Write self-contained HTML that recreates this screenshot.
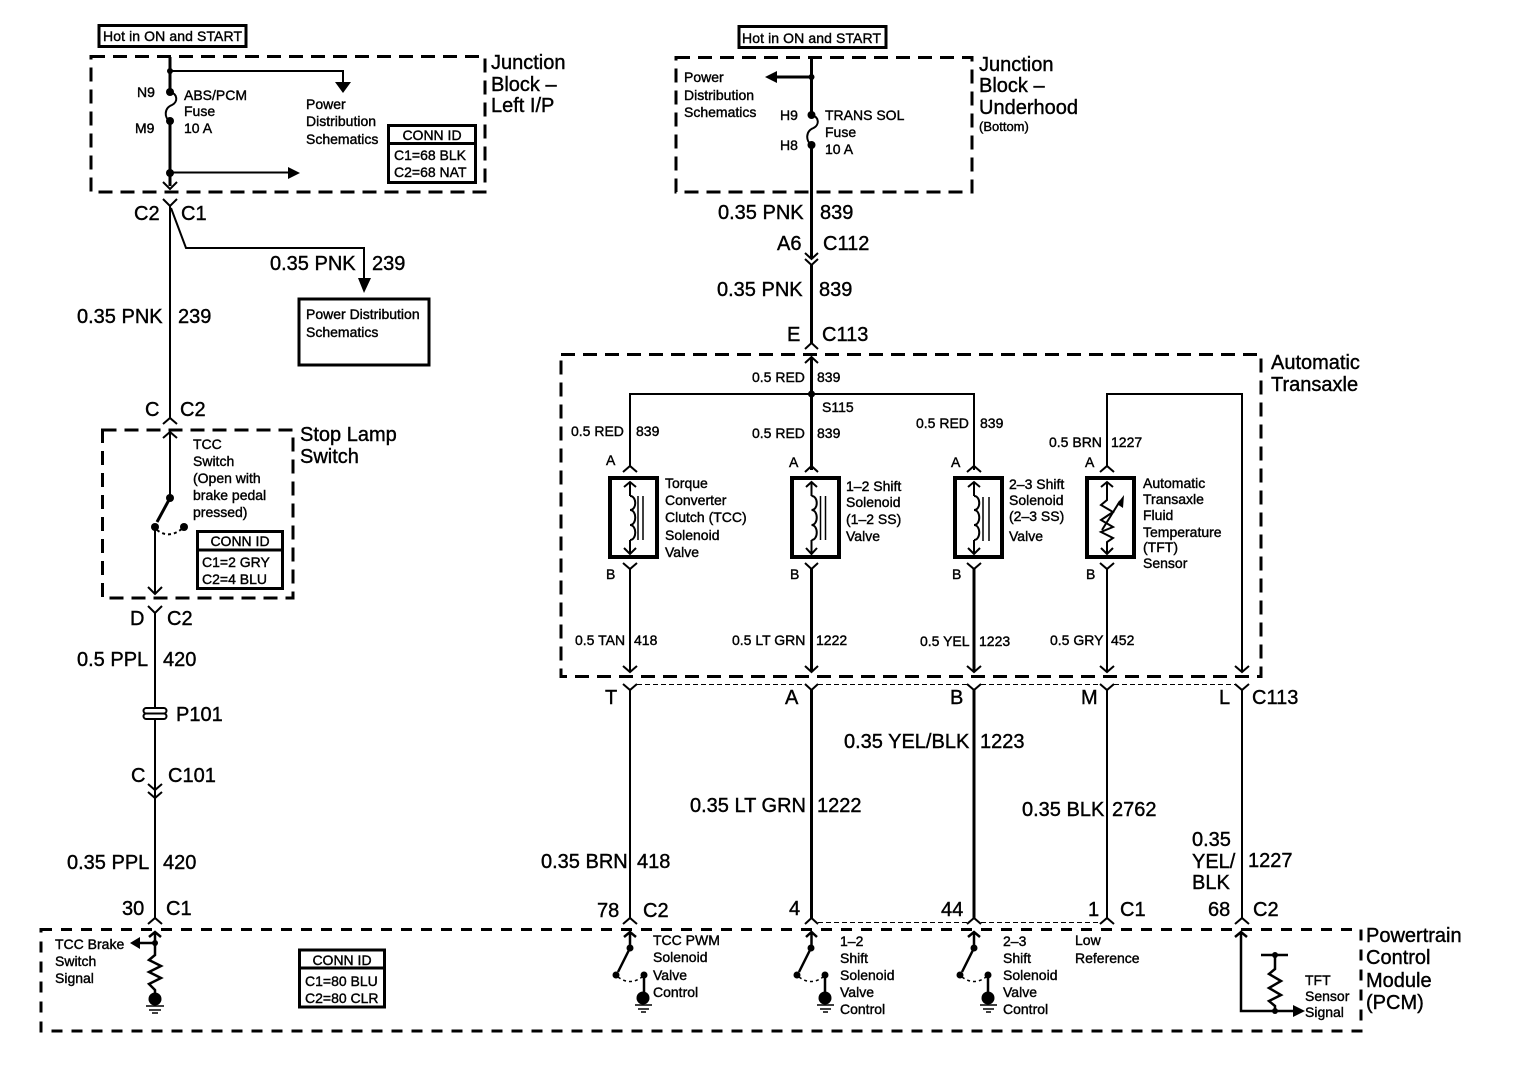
<!DOCTYPE html>
<html><head><meta charset="utf-8"><style>
html,body{margin:0;padding:0;background:#fff}
svg{display:block}
text{font-family:"Liberation Sans",sans-serif;fill:#000;stroke:#000;stroke-width:.4}
.l{font-size:20px}
.m{font-size:14px}
.s{font-size:13px}
.c{text-anchor:middle}
.w{fill:none;stroke:#000;stroke-linejoin:miter}
</style></head><body>
<svg width="1516" height="1072" viewBox="0 0 1516 1072" xmlns="http://www.w3.org/2000/svg">
<rect width="1516" height="1072" fill="#fff"/>
<!-- dashed enclosures -->
<g class="w" fill="none" stroke="#000" stroke-width="3">
<rect x="91" y="56.500" width="394" height="135.500" stroke-dasharray="14 8"/>
<rect x="676" y="57.500" width="296" height="134.500" stroke-dasharray="14 8"/>
<rect x="102.500" y="430" width="190.500" height="168" stroke-dasharray="14 8"/>
<rect x="561" y="354.500" width="700" height="322" stroke-dasharray="14 8"/>
<rect x="41" y="929.500" width="1320" height="101.500" stroke-dasharray="11 9"/>
</g>
<!-- solid boxes -->
<g class="w" stroke-width="3">
<rect x="99" y="25.500" width="147" height="21"/>
<rect x="739" y="26.500" width="147" height="21"/>
<rect x="299" y="299" width="130" height="66"/>
<rect x="388.500" y="125.500" width="87" height="57"/><path d="M388 143.500H476"/>
<rect x="197.500" y="531.500" width="85" height="57"/><path d="M197 550H283"/>
<rect x="299.500" y="950" width="85" height="57"/><path d="M299 968H385"/>
</g>
<g class="w" stroke-width="4">
<rect x="610" y="478" width="47" height="79"/>
<rect x="792" y="478" width="47" height="79"/>
<rect x="955" y="478" width="47" height="79"/>
<rect x="1087" y="478" width="47" height="79"/>
</g>
<!-- left wires -->
<g class="w" stroke-width="3">
<path d="M170 57V92M170 121V186"/>
<path d="M170 92c8 2 8 10 2 13c-8 3 -8 13 -2 16" stroke-width="2"/>
<path d="M170 71H343V84M170 172.500H290" stroke-width="2"/>
</g>
<g class="w" stroke-width="2">
<path d="M163 182L170 189L177 182M163 199L170 206L177 199M170 206V418M171 208L186 248H364V282"/>
<path d="M163 424L170 418L177 424M163 438L170 432L177 438M170 432V498"/>
<path d="M155 527V594M148 587L155 594L162 587M148 606L155 613L162 606M155 613V708M155 719V918M148 784L155 790L162 784M148 792L155 798L162 792"/>
<path d="M148 924L155 918L162 924"/>
<path d="M157 530Q170 540 184 527" stroke-dasharray="3 3"/>
</g>
<path d="M335 82H351L343 93Z M288 167V179L300 173Z M358 278H371L364 293Z"/>
<g><circle cx="170" cy="71" r="3"/><circle cx="170" cy="92" r="4"/><circle cx="170" cy="121" r="4"/><circle cx="170" cy="173" r="4"/><circle cx="170" cy="498" r="4"/><circle cx="155" cy="527" r="4"/><circle cx="184" cy="527" r="4"/></g>
<path d="M170 498L157 522" class="w" stroke-width="3"/>
<!-- P101 -->
<rect x="143.500" y="708" width="23" height="5.500" rx="2.750" class="w" stroke-width="2" fill="#fff"/>
<rect x="143.500" y="713.500" width="23" height="5.500" rx="2.750" class="w" stroke-width="2" fill="#fff"/>
<!-- upper right -->
<g class="w" stroke-width="3">
<path d="M811.500 57V115M811.500 77H775M811.500 145V259M811.500 265V343M811.500 357V470"/>
</g>
<path d="M811.500 115c8 2 8 10 2 13c-8 3 -8 13 -2 17" class="w" stroke-width="2"/>
<path d="M777 71V83L765 77Z"/>
<circle cx="811.500" cy="77" r="3"/><circle cx="811.500" cy="115" r="4"/><circle cx="811.500" cy="145" r="4"/>
<g class="w" stroke-width="2">
<path d="M805 253L811.500 259L818 253M805 259L811.500 265L818 259"/>
<path d="M805 349L811.500 343L818 349M805 363L811.500 357L818 363"/>
<!-- bus -->
<path d="M630 466V394H974V470M974 394V466M1107 466V394H1242V672"/>
<path d="M623 472L630 466L637 472M805 472L811.500 466L818 472M967 472L974 466L981 472M1100 472L1107 466L1114 472"/>
<!-- internal arrows -->
<path d="M624 487L630 482L636 487M806 487L811.500 482L817 487M968 487L974 482L980 487M1101 487L1107 482L1113 487"/>
<path d="M624 548L630 554L636 548M806 548L811.500 554L817 548M968 548L974 554L980 548M1101 548L1107 554L1113 548"/>
<path d="M630 483V496M811.500 483V496M974 483V496M630 540V553M811.500 540V553M974 540V553M1107 483V500L1101 505L1113 512L1101 520L1113 527L1101 532L1113 538L1107 542V553"/>
<!-- coils -->
<path d="M630 496c7 0 7 14 0 14c7 0 7 15 0 15c7 0 7 15 0 15"/>
<path d="M811.500 496c7 0 7 14 0 14c7 0 7 15 0 15c7 0 7 15 0 15"/>
<path d="M974 496c7 0 7 14 0 14c7 0 7 15 0 15c7 0 7 15 0 15"/>
<path d="M1102 530L1120 501"/>
<!-- below boxes -->
<path d="M623 563L630 569L637 563M805 563L811.500 569L818 563M967 563L974 569L981 563M1100 563L1107 569L1114 563"/>
<path d="M630 569V672M1107 569V672"/>
<path d="M623 666L630 672L637 666M805 666L811.500 672L818 666M967 666L974 672L981 666M1100 666L1107 672L1114 666M1235 666L1242 672L1249 666"/>
<path d="M623 684L630 690L637 684M805 684L811.500 690L818 684M967 684L974 690L981 684M1100 684L1107 690L1114 684M1235 684L1242 690L1249 684"/>
<path d="M630 690V918M1107 690V918M1242 690V918"/>
<path d="M623 924L630 918L637 924M805 924L811.500 918L818 924M967 924L974 918L981 924M1100 924L1107 918L1114 924M1235 924L1242 918L1249 924"/>
</g>
<g class="w" stroke-width="1.500">
<path d="M638 496V540M643 496V540M820.500 496V540M825.500 496V540M983 497V541M989 497V541"/>
</g>
<path d="M1117 504L1124 495L1123 508Z"/>
<circle cx="811.500" cy="394" r="3.500"/>
<g class="w" stroke-width="3"><path d="M811.500 569V672M974 569V672M811.500 690V918M974 690V918"/></g>
<path d="M637 684.500H805M818 684.500H967M981 684.500H1100M1114 684.500H1235M818 922.500H967M981 922.500H1100" class="w" stroke-width="1" stroke-dasharray="5 3"/>
<!-- PCM internals -->
<g class="w" stroke-width="2.500">
<path d="M149 937L155 932L161 937M155 932V955L149 960L161 966L149 972L161 978L149 984L155 990V998M155 943H140"/>
<path d="M1235 937L1241 932L1247 937M1241 932V1011H1295M1261 955H1288M1275 955V969L1269 974L1281 981L1269 988L1281 995L1269 1001L1275 1006V1011"/>
<path d="M624 937L630 932L636 937M630 932V948M806 937L811.500 932L817 937M811.500 932V948M968 937L974 932L980 937M974 932V948"/>
<path d="M630 948L618 972M811 948L799 972M974 948L962 972M644 975V995M825 975V995M988 975V995"/>
</g>
<path d="M140 937V949L130 943Z M1293 1005V1017L1305 1011Z"/>
<g>
<circle cx="155" cy="943" r="3"/><circle cx="155" cy="999" r="6.500"/>
<circle cx="1275" cy="955" r="3"/><circle cx="1275" cy="1011" r="3"/>
<circle cx="630" cy="948" r="3.500"/><circle cx="616" cy="975" r="3.500"/><circle cx="644" cy="975" r="3.500"/><circle cx="643" cy="998" r="6.500"/>
<circle cx="811" cy="948" r="3.500"/><circle cx="797" cy="975" r="3.500"/><circle cx="825" cy="975" r="3.500"/><circle cx="825" cy="998" r="6.500"/>
<circle cx="974" cy="948" r="3.500"/><circle cx="960" cy="975" r="3.500"/><circle cx="988" cy="975" r="3.500"/><circle cx="988" cy="998" r="6.500"/>
</g>
<g class="w" stroke-width="1.500">
<path d="M146 1006H164M149 1010H161M152 1013H158"/>
<path d="M635 1005H652M638 1009H649M641 1012H646"/>
<path d="M817 1005H834M820 1009H831M823 1012H828"/>
<path d="M980 1005H997M983 1009H994M986 1012H991"/>
<path d="M618 977Q630 986 642 977M799 977Q811 986 823 977M962 977Q974 986 986 977" stroke-dasharray="3 3"/>
</g>
<!-- large text -->
<g class="l">
<text x="491" y="69">Junction</text><text x="491" y="91">Block –</text><text x="491" y="112">Left I/P</text>
<text x="134" y="220">C2</text><text x="181" y="220">C1</text>
<text x="270" y="270">0.35 PNK</text><text x="372" y="270">239</text>
<text x="77" y="323">0.35 PNK</text><text x="178" y="323">239</text>
<text x="145" y="416">C</text><text x="180" y="416">C2</text>
<text x="300" y="441">Stop Lamp</text><text x="300" y="463">Switch</text>
<text x="130" y="625">D</text><text x="167" y="625">C2</text>
<text x="77" y="666">0.5 PPL</text><text x="163" y="666">420</text>
<text x="176" y="721">P101</text>
<text x="131" y="782">C</text><text x="168" y="782">C101</text>
<text x="67" y="869">0.35 PPL</text><text x="163" y="869">420</text>
<text x="122" y="915">30</text><text x="166" y="915">C1</text>
<text x="979" y="71">Junction</text><text x="979" y="92">Block –</text><text x="979" y="114">Underhood</text>
<text x="718" y="219">0.35 PNK</text><text x="820" y="219">839</text>
<text x="777" y="250">A6</text><text x="823" y="250">C112</text>
<text x="717" y="296">0.35 PNK</text><text x="819" y="296">839</text>
<text x="787" y="341">E</text><text x="822" y="341">C113</text>
<text x="1271" y="369">Automatic</text><text x="1271" y="391">Transaxle</text>
<text x="605" y="704">T</text><text x="785" y="704">A</text><text x="950" y="704">B</text><text x="1081" y="704">M</text><text x="1219" y="704">L</text><text x="1252" y="704">C113</text>
<text x="844" y="748">0.35 YEL/BLK</text><text x="980" y="748">1223</text>
<text x="690" y="812">0.35 LT GRN</text><text x="817" y="812">1222</text>
<text x="1022" y="816">0.35 BLK</text><text x="1112" y="816">2762</text>
<text x="1192" y="846">0.35</text><text x="1192" y="868">YEL/</text><text x="1192" y="889">BLK</text><text x="1248" y="867">1227</text>
<text x="541" y="868">0.35 BRN</text><text x="637" y="868">418</text>
<text x="597" y="917">78</text><text x="643" y="917">C2</text>
<text x="789" y="915">4</text><text x="941" y="916">44</text><text x="1088" y="916">1</text><text x="1120" y="916">C1</text>
<text x="1208" y="916">68</text><text x="1253" y="916">C2</text>
<text x="1366" y="942">Powertrain</text><text x="1366" y="964">Control</text><text x="1366" y="987">Module</text><text x="1366" y="1009">(PCM)</text>
</g>
<!-- medium text -->
<g class="m">
<text x="103" y="41" textLength="139">Hot in ON and START</text>
<text x="137" y="97">N9</text><text x="135" y="133">M9</text>
<text x="184" y="100">ABS/PCM</text><text x="184" y="116">Fuse</text><text x="184" y="133">10 A</text>
<text x="306" y="109">Power</text><text x="306" y="126">Distribution</text><text x="306" y="144">Schematics</text>
<text x="432" y="140" class="c">CONN ID</text><text x="394" y="160">C1=68 BLK</text><text x="394" y="177">C2=68 NAT</text>
<text x="306" y="319">Power Distribution</text><text x="306" y="337">Schematics</text>
<text x="193" y="449">TCC</text><text x="193" y="466">Switch</text><text x="193" y="483">(Open with</text><text x="193" y="500">brake pedal</text><text x="193" y="517">pressed)</text>
<text x="240" y="546" class="c">CONN ID</text><text x="202" y="567">C1=2 GRY</text><text x="202" y="584">C2=4 BLU</text>
<text x="55" y="949">TCC Brake</text><text x="55" y="966">Switch</text><text x="55" y="983">Signal</text>
<text x="342" y="965" class="c">CONN ID</text><text x="305" y="986">C1=80 BLU</text><text x="305" y="1003">C2=80 CLR</text>
<text x="742" y="43" textLength="139">Hot in ON and START</text>
<text x="684" y="82">Power</text><text x="684" y="100">Distribution</text><text x="684" y="117">Schematics</text>
<text x="780" y="120">H9</text><text x="780" y="150">H8</text>
<text x="825" y="120">TRANS SOL</text><text x="825" y="137">Fuse</text><text x="825" y="154">10 A</text>
<text x="752" y="382">0.5 RED</text><text x="817" y="382">839</text>
<text x="822" y="412">S115</text>
<text x="571" y="436">0.5 RED</text><text x="636" y="436">839</text>
<text x="752" y="438">0.5 RED</text><text x="817" y="438">839</text>
<text x="916" y="428">0.5 RED</text><text x="980" y="428">839</text>
<text x="1049" y="447">0.5 BRN</text><text x="1111" y="447">1227</text>
<text x="606" y="465">A</text><text x="789" y="467">A</text><text x="951" y="467">A</text><text x="1085" y="467">A</text>
<text x="606" y="579">B</text><text x="790" y="579">B</text><text x="952" y="579">B</text><text x="1086" y="579">B</text>
<text x="665" y="488">Torque</text><text x="665" y="505">Converter</text><text x="665" y="522">Clutch (TCC)</text><text x="665" y="540">Solenoid</text><text x="665" y="557">Valve</text>
<text x="846" y="491">1–2 Shift</text><text x="846" y="507">Solenoid</text><text x="846" y="524">(1–2 SS)</text><text x="846" y="541">Valve</text>
<text x="1009" y="489">2–3 Shift</text><text x="1009" y="505">Solenoid</text><text x="1009" y="521">(2–3 SS)</text><text x="1009" y="541">Valve</text>
<text x="1143" y="488">Automatic</text><text x="1143" y="504">Transaxle</text><text x="1143" y="520">Fluid</text><text x="1143" y="537">Temperature</text><text x="1143" y="552">(TFT)</text><text x="1143" y="568">Sensor</text>
<text x="575" y="645">0.5 TAN</text><text x="634" y="645">418</text>
<text x="732" y="645">0.5 LT GRN</text><text x="816" y="645">1222</text>
<text x="920" y="646">0.5 YEL</text><text x="979" y="646">1223</text>
<text x="1050" y="645">0.5 GRY</text><text x="1111" y="645">452</text>
<text x="653" y="945">TCC PWM</text><text x="653" y="962">Solenoid</text><text x="653" y="980">Valve</text><text x="653" y="997">Control</text>
<text x="840" y="946">1–2</text><text x="840" y="963">Shift</text><text x="840" y="980">Solenoid</text><text x="840" y="997">Valve</text><text x="840" y="1014">Control</text>
<text x="1003" y="946">2–3</text><text x="1003" y="963">Shift</text><text x="1003" y="980">Solenoid</text><text x="1003" y="997">Valve</text><text x="1003" y="1014">Control</text>
<text x="1075" y="945">Low</text><text x="1075" y="963">Reference</text>
<text x="1305" y="985">TFT</text><text x="1305" y="1001">Sensor</text><text x="1305" y="1017">Signal</text>
</g>
<text x="979" y="131" class="s">(Bottom)</text>
</svg>
</body></html>
